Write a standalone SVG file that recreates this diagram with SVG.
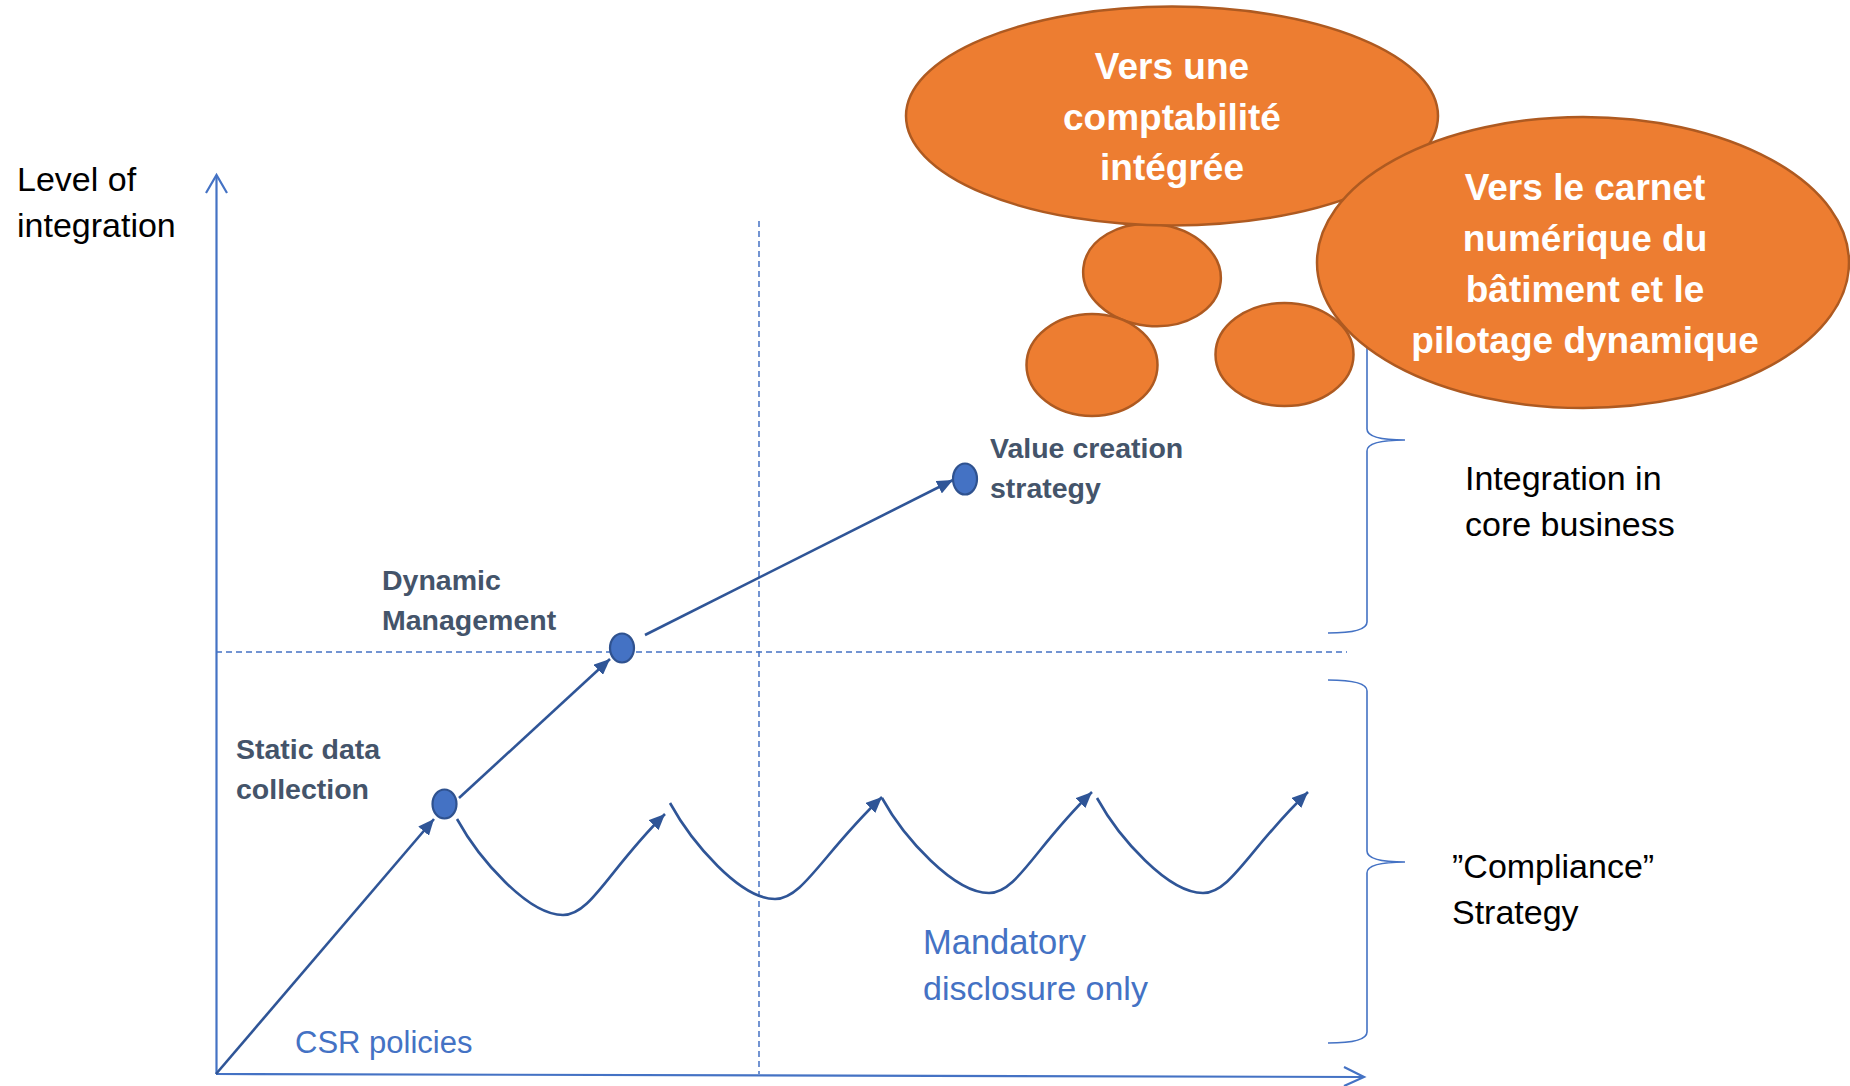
<svg xmlns="http://www.w3.org/2000/svg" width="1850" height="1086" viewBox="0 0 1850 1086">
<defs>
<style>
.lbl{font-family:"Liberation Sans",Arial,sans-serif;font-size:34px;fill:#000}
.node-lbl{font-family:"Liberation Sans",Arial,sans-serif;font-size:28.5px;font-weight:bold;fill:#44546A}
.blue-lbl{font-family:"Liberation Sans",Arial,sans-serif;fill:#4472C4}
.bubble-txt{font-family:"Liberation Sans",Arial,sans-serif;font-size:37px;font-weight:bold;fill:#fff;text-anchor:middle}
.axis{stroke:#4472C4;stroke-width:2.2;fill:none}
.dash{stroke:#4472C4;stroke-width:1.5;stroke-dasharray:6 4;fill:none}
.brace{stroke:#4472C4;stroke-width:1.6;fill:none}
.conn{stroke:#2F5597;stroke-width:2.6;fill:none;marker-end:url(#ah)}
.dot{fill:#4472C4;stroke:#2F528F;stroke-width:2.2}
.bubble{fill:#ED7D31;stroke:#AE5A21;stroke-width:2.5}
</style>
<marker id="ah" markerUnits="userSpaceOnUse" markerWidth="16" markerHeight="14" refX="16" refY="7" orient="auto">
<path d="M0,0 L16,7 L0,14 z" fill="#2F5597"/>
</marker>
</defs>
<rect width="1850" height="1086" fill="#fff"/>

<g id="grid">
<path class="dash" d="M759,221 V1074"/>
<path class="dash" d="M216,652 H1347"/>
</g>

<g id="axes">
<path class="axis" d="M216.5,1074 V176"/>
<path class="axis" d="M206,193 L216.5,175 L227,193"/>
<path class="axis" d="M216,1074 L1363,1077"/>
<path class="axis" d="M1344,1067 L1364,1077 L1344,1086"/>
</g>

<g id="braces">
<path class="brace" d="M1328,247 Q1367,247 1367,259 L1367,429 Q1367,440 1405,440 Q1367,440 1367,451 L1367,622 Q1367,633 1328,633"/>
<path class="brace" d="M1328,680 Q1367,680 1367,691 L1367,851 Q1367,862 1405,862 Q1367,862 1367,873 L1367,1032 Q1367,1043 1328,1043"/>
</g>

<g id="connectors">
<path class="conn" d="M216,1074 L434,819"/>
<path class="conn" d="M459,798 L610,659"/>
<path class="conn" d="M645,635 L953,480"/>
<path class="conn" d="M457,819 C479,859 528,915 563,915 C591,915 609,869 665,814"/>
<path class="conn" d="M670,803 C692,843 740,899 775,899 C803,899 823,853 882,797"/>
<path class="conn" d="M882,798 C904,838 954,893 989,893 C1017,893 1035,847 1092,792"/>
<path class="conn" d="M1097,798 C1119,838 1168,893 1203,893 C1231,893 1250,847 1308,792"/>
</g>

<g id="node-static">
<ellipse class="dot" cx="444.5" cy="804" rx="12" ry="14.5"/>
<text class="node-lbl" x="236" y="759">Static data</text>
<text class="node-lbl" x="236" y="799">collection</text>
</g>
<g id="node-dynamic">
<ellipse class="dot" cx="622" cy="648" rx="12" ry="14.5"/>
<text class="node-lbl" x="382" y="590">Dynamic</text>
<text class="node-lbl" x="382" y="630">Management</text>
</g>
<g id="node-value">
<ellipse class="dot" cx="965" cy="479" rx="12" ry="15.5"/>
<text class="node-lbl" x="990" y="458">Value creation</text>
<text class="node-lbl" x="990" y="498">strategy</text>
</g>

<g id="labels">
<text class="lbl" x="17" y="191">Level of</text>
<text class="lbl" x="17" y="237" font-size="35">integration</text>
<text class="lbl" x="1465" y="490">Integration in</text>
<text class="lbl" x="1465" y="536">core business</text>
<text class="lbl" x="1452" y="878">”Compliance”</text>
<text class="lbl" x="1452" y="924">Strategy</text>
<text class="blue-lbl" x="295" y="1053" font-size="31">CSR policies</text>
<text class="blue-lbl" x="923" y="954" font-size="34.5">Mandatory</text>
<text class="blue-lbl" x="923" y="1000" font-size="34">disclosure only</text>
</g>

<g id="bubbles-small">
<ellipse class="bubble" cx="1152" cy="275" rx="69" ry="51" transform="rotate(6 1152 275)"/>
<ellipse class="bubble" cx="1092" cy="365" rx="65.5" ry="51"/>
<ellipse class="bubble" cx="1284.5" cy="354.5" rx="69" ry="51.5"/>
</g>

<g id="bubble-comptabilite">
<ellipse class="bubble" cx="1172" cy="116" rx="266" ry="109.5"/>
<text class="bubble-txt" x="1172" y="79">Vers une</text>
<text class="bubble-txt" x="1172" y="130">comptabilité</text>
<text class="bubble-txt" x="1172" y="180">intégrée</text>
</g>

<g id="bubble-carnet">
<ellipse class="bubble" cx="1583" cy="262.5" rx="266" ry="145.5"/>
<text class="bubble-txt" x="1585" y="200">Vers le carnet</text>
<text class="bubble-txt" x="1585" y="251">numérique du</text>
<text class="bubble-txt" x="1585" y="302">bâtiment et le</text>
<text class="bubble-txt" x="1585" y="353">pilotage dynamique</text>
</g>
</svg>
